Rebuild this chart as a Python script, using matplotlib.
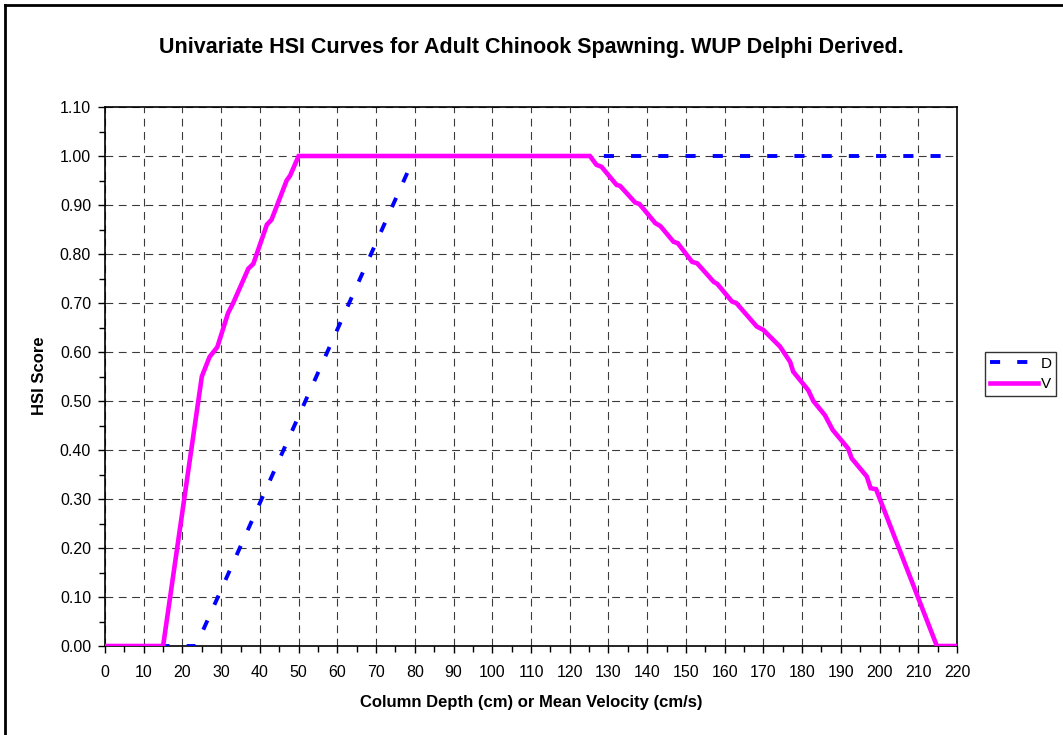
import matplotlib
matplotlib.use("Agg")
import matplotlib.pyplot as plt
from matplotlib.lines import Line2D
from matplotlib.ticker import MultipleLocator, FormatStrFormatter

plt.rcParams['font.family'] = ['Liberation Sans', 'DejaVu Sans']

# --- DATA ---
D_X = [0, 23.5, 80, 220]
D_Y = [0, 0, 1.0, 1.0]

V_X = [0, 15, 25, 27, 29, 31.8, 33.1, 37, 38.3, 41.8, 43, 46.9, 47.8, 50,
       125.2, 126.9, 128.2, 132.1, 133, 136.9, 138, 142.1, 143.4, 146.8, 147.9,
       151.6, 152.9, 157.2, 158.1, 161.9, 163, 168.3, 170, 174.3, 176.9, 177.7,
       181.6, 182.9, 185.9, 187.9, 191.9, 192.8, 196.7, 197.7, 199.1, 214.8, 220]
V_Y = [0, 0, 0.55, 0.59, 0.61, 0.68, 0.70, 0.77, 0.78, 0.86, 0.87, 0.95, 0.96, 1.0,
       1.0, 0.982, 0.978, 0.941, 0.939, 0.905, 0.902, 0.863, 0.857, 0.825, 0.822,
       0.784, 0.781, 0.743, 0.739, 0.703, 0.700, 0.652, 0.645, 0.611, 0.580, 0.560,
       0.522, 0.500, 0.471, 0.441, 0.403, 0.383, 0.346, 0.322, 0.320, 0.0, 0.0]

TITLE = "Univariate HSI Curves for Adult Chinook Spawning. WUP Delphi Derived."
X_LABEL = "Column Depth (cm) or Mean Velocity (cm/s)"
Y_LABEL = "HSI Score"

W, H = 1063, 735
fig = plt.figure(figsize=(W / 100, H / 100), dpi=100)
ax = fig.add_axes([105 / W, 1 - 646 / H, (957 - 105) / W, (646 - 107) / H])

ax.plot(D_X, D_Y, color='#0000FF', lw=2.8, linestyle=(0, (2.6, 4.4)),
        dash_capstyle='butt', label='D', zorder=3)
ax.plot(V_X, V_Y, color='#FF00FF', lw=3.3, label='V', zorder=4,
        solid_joinstyle='miter')

ax.set_xlim(0, 220)
ax.set_ylim(0, 1.10)
ax.xaxis.set_major_locator(MultipleLocator(10))
ax.xaxis.set_minor_locator(MultipleLocator(5))
ax.yaxis.set_major_locator(MultipleLocator(0.1))
ax.yaxis.set_minor_locator(MultipleLocator(0.05))
ax.yaxis.set_major_formatter(FormatStrFormatter('%.2f'))

ax.tick_params(which='major', direction='out', length=5, width=1, labelsize=11.5)
ax.tick_params(axis='x', which='major', pad=8.5)
ax.tick_params(axis='y', which='major', pad=5)
ax.tick_params(which='minor', direction='out', length=4, width=1)
ax.grid(True, which='major', color='#3a3a3a', linestyle=(0, (7, 5)), lw=0.8)
ax.set_axisbelow(True)
for sp in ax.spines.values():
    sp.set_linewidth(1.2)
    sp.set_color('black')

fig.text(531 / W, 1 - 47 / H, TITLE, ha='center', va='center',
         fontsize=15.5, fontweight='bold')
fig.text(531 / W, 1 - 703 / H, X_LABEL, ha='center', va='center',
         fontsize=12, fontweight='bold')
fig.text(40 / W, 1 - 376 / H, Y_LABEL, ha='center', va='center',
         fontsize=12, fontweight='bold', rotation=90)

leg = fig.legend(loc='upper left', bbox_to_anchor=(985 / W, 1 - 352 / H),
                 fontsize=11, frameon=True, fancybox=False, handlelength=3.2,
                 borderpad=0.3, labelspacing=0.45, handletextpad=0.15,
                 borderaxespad=0)
leg.get_frame().set_edgecolor('black')
leg.get_frame().set_linewidth(1)

# outer chart-area frame (left and top edges visible)
fig.add_artist(Line2D([5 / W, 5 / W], [0, 1 - 5 / H], transform=fig.transFigure,
                      color='black', lw=2))
fig.add_artist(Line2D([5 / W, 1], [1 - 5 / H, 1 - 5 / H], transform=fig.transFigure,
                      color='black', lw=2))

fig.savefig("out.png", dpi=100)
